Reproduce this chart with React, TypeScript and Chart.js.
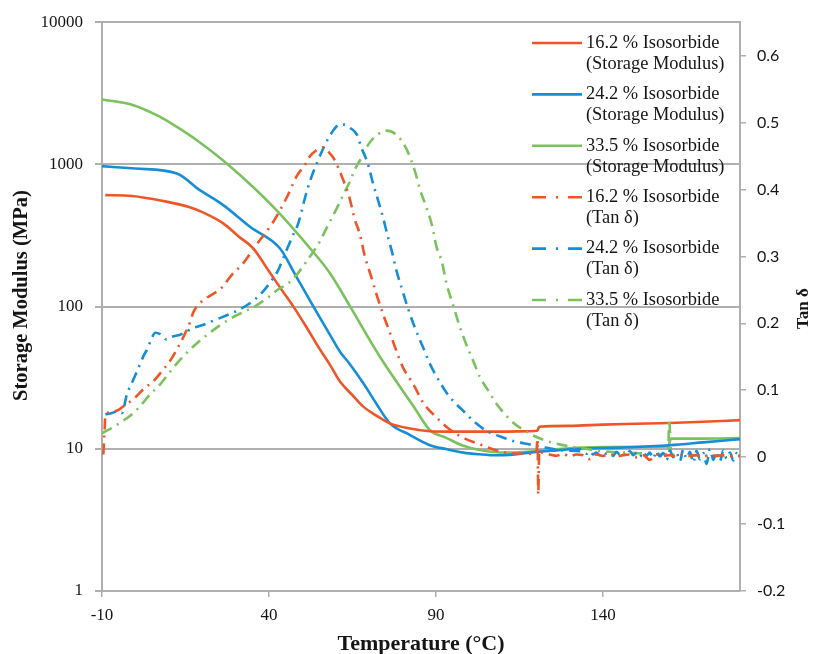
import React, { useEffect, useRef } from 'react';
import { Chart, registerables } from 'chart.js';

Chart.register(...registerables);

// ---------- ticks ----------
const xTickValues = [-10, 40, 90, 140];
const leftTickValues = [1, 10, 100, 1000, 10000];
const rightTickValues = [-0.2, -0.1, 0, 0.1, 0.2, 0.3, 0.4, 0.5, 0.6];

// ---------- legend labels ----------
const seriesNames = ['16.2 % Isosorbide', '24.2 % Isosorbide', '33.5 % Isosorbide'];
const storageSuffix = '(Storage Modulus)';
const tanSuffix = '(Tan δ)';

// ---------- Storage modulus (MPa) ----------
const sm162T = [-9, -1, 8, 16.3, 20.2, 26.2, 31, 35.2, 40, 44, 47.3, 51, 55, 58.3, 61.3, 65, 68.2, 72, 76.2, 82.2, 88.2, 95, 103, 110, 118, 120.3, 120.9, 130, 140, 150, 160, 170, 181];
const sm162V = [608, 600, 555, 500, 460, 386, 310, 258, 177, 129, 100, 73, 51, 38.8, 29.6, 23.8, 19.8, 17.2, 15.1, 13.9, 13.3, 13.2, 13.2, 13.2, 13.3, 13.4, 14.3, 14.5, 14.8, 15.0, 15.2, 15.5, 15.9];

const sm242T = [-10, 0, 12.4, 19.3, 26.3, 34.3, 43.3, 48, 53.3, 58.3, 61.3, 64, 68.2, 72, 76.2, 82, 88.2, 93, 98.2, 103, 108.2, 113, 118.1, 125, 133.1, 145, 160, 170, 181];
const sm242V = [972, 935, 864, 659, 517, 364, 256, 165, 100, 63, 48, 40, 29, 21, 15.1, 12.6, 10.6, 9.96, 9.4, 9.15, 9.0, 9.1, 9.4, 9.7, 10.0, 10.2, 10.6, 11.1, 11.7];

const sm335T = [-10, -0.6, 6.4, 12.4, 18.4, 28.3, 41.3, 52.3, 58.3, 64.3, 73.2, 83.2, 88.2, 93.2, 98.2, 103.2, 108.2, 113.1, 118.1, 123.1, 130, 140, 150, 159.6, 160.2, 170, 181];
const sm335V = [2862, 2610, 2218, 1837, 1480, 972, 503, 257, 171, 100, 44.4, 20, 13.5, 11.9, 10.5, 9.8, 9.45, 9.4, 9.55, 9.8, 10.1, 10.3, 10.35, 10.4, 11.8, 11.8, 11.9];

// ---------- Tan delta ----------
const tan162T = [-9.6, -9.4, -9.2, -9, -6, -3.6, -0.1, 2.9, 4.9, 8.2, 10.9, 12.4, 14.4, 16.3, 17.3, 19.9, 23.3, 25.8, 28.8, 32.3, 36.3, 40.8, 45.3, 48.3, 50.8, 52.3, 54, 56, 58, 59.3, 60.8, 62.3, 63.8, 65.7, 67.2, 68.7, 70.7, 72.2, 74.2, 76.2, 78.2, 80.2, 83.2, 86.2, 90.2, 94.2, 98.2, 103.2, 108.2, 112.2, 118.1, 120, 120.4, 120.6, 120.9, 122,
  124, 126, 128, 130, 132, 134, 136, 138, 140, 142, 144, 146, 148, 150, 152, 154, 156, 158, 160, 162, 164, 166, 168, 170, 172, 174, 176, 178, 180, 181];
const tan162V = [0.004, 0.024, 0.042, 0.063, 0.069, 0.076, 0.089, 0.104, 0.111, 0.130, 0.148, 0.161, 0.180, 0.201, 0.216, 0.233, 0.244, 0.253, 0.272, 0.290, 0.318, 0.348, 0.388, 0.420, 0.437, 0.450, 0.458, 0.463, 0.455, 0.447, 0.432, 0.413, 0.393, 0.355, 0.333, 0.300, 0.268, 0.243, 0.213, 0.186, 0.158, 0.133, 0.109, 0.081, 0.059, 0.041, 0.029, 0.019, 0.010, 0.006, 0.005, 0.006, 0.028, -0.056, 0.010, 0.006,
  0.004, 0.002, 0.005, 0.001, 0.004, 0.003, -0.003, 0.004, 0.002, 0.005, 0.001, 0.003, 0.004, 0.000, 0.003, -0.004, 0.004, 0.002, 0.003, 0.001, 0.004, 0.002, 0.003, 0.001, 0.003, 0.002, 0.003, 0.002, 0.002, 0.002];

const tan242T = [-9, -7, -5.1, -4, -2.6, -0.6, 1.4, 2.4, 3.6, 4.9, 5.9, 7.4, 9.2, 11, 13.4, 17.3, 19.9, 24.3, 28.3, 31.3, 34.8, 38.3, 40.3, 42.6, 44.3, 45.3, 47.3, 48.8, 50.8, 52.3, 54.8, 56.3, 57.8, 59.5, 61, 62.5, 64.3, 66.3, 67.7, 69.5, 71.2, 72.7, 74.2, 75.4, 76.7, 78.2, 79.7, 81.7, 83.7, 86.2, 88.2, 90.7, 93.2, 95.7, 98.2, 101.2, 105.2, 109.2, 113.2, 118.1, 123.1, 128.1, 133.1,
  134, 135, 136, 137, 138, 139, 140, 141, 142, 143, 144, 145, 146, 147, 148, 149, 150, 151, 152, 153, 154, 155, 156, 157, 158, 159, 160, 161, 162, 163, 164, 165, 166, 167, 168, 169, 170, 171, 172, 173, 174, 175, 176, 177, 178, 179, 180, 181];
const tan242V = [0.064, 0.066, 0.069, 0.066, 0.093, 0.116, 0.139, 0.151, 0.162, 0.178, 0.186, 0.184, 0.176, 0.180, 0.183, 0.193, 0.197, 0.206, 0.214, 0.221, 0.232, 0.248, 0.261, 0.278, 0.298, 0.310, 0.333, 0.350, 0.388, 0.413, 0.445, 0.462, 0.477, 0.490, 0.497, 0.497, 0.492, 0.482, 0.462, 0.440, 0.408, 0.383, 0.357, 0.333, 0.309, 0.278, 0.253, 0.221, 0.193, 0.163, 0.139, 0.116, 0.096, 0.081, 0.069, 0.054, 0.039, 0.031, 0.024, 0.019, 0.014, 0.010, 0.009,
  0.008, 0.005, 0.009, 0.004, 0.007, 0.003, 0.008, 0.005, 0.006, 0.002, 0.008, 0.004, 0.007, 0.001, 0.009, 0.003, 0.006, 0.000, 0.008, 0.002, 0.007, -0.002, 0.009, 0.001, 0.006, -0.004, 0.010, 0.000, 0.007, -0.006, 0.011, -0.002, 0.008, -0.008, 0.009, -0.003, 0.006, -0.010, 0.012, -0.004, 0.008, -0.006, 0.010, -0.002, 0.007, -0.005, 0.006, 0.001];

const tan335T = [-10, -8, -4.1, -0.6, 1.4, 4.4, 6.9, 10.9, 14.4, 16.4, 19.3, 22.8, 25.3, 28.8, 32.8, 35.3, 39.3, 42.8, 45.3, 48.5, 51.3, 55.3, 57.3, 60.8, 62.3, 64.3, 65.7, 68.2, 69.7, 72.2, 75.2, 78.5, 81.2, 83.7, 85.2, 87.2, 88.7, 90.2, 91.7, 93.2, 95.2, 96.7, 98.7, 101.2, 103.2, 105.7, 108.2, 111.2, 113.7, 116.2, 118.1, 122.1, 126.1, 130.1, 133.1, 138, 142, 146, 150, 154, 157, 159.5, 159.8, 160.1, 160.4, 164, 168, 172, 176, 181];
const tan335V = [0.036, 0.041, 0.053, 0.066, 0.076, 0.094, 0.106, 0.131, 0.151, 0.161, 0.174, 0.188, 0.197, 0.208, 0.218, 0.224, 0.237, 0.251, 0.258, 0.274, 0.293, 0.323, 0.343, 0.377, 0.393, 0.413, 0.430, 0.452, 0.467, 0.481, 0.488, 0.480, 0.460, 0.427, 0.400, 0.372, 0.348, 0.313, 0.293, 0.258, 0.226, 0.201, 0.173, 0.143, 0.119, 0.099, 0.079, 0.061, 0.049, 0.041, 0.035, 0.026, 0.020, 0.016, 0.014, 0.010, 0.008, 0.007, 0.006, 0.005, 0.004, 0.005, 0.057, 0.030, 0.004, 0.003, 0.003, 0.002, 0.002, 0.002];

// ---------- styles ----------
const RED = '#EE5627';
const BLUE = '#168ED5';
const GREEN = '#7BC25E';
const GRID = '#AFAFAF';
const TEXT = '#151515';
const DASH_DOT = [11, 6, 2, 6];

const pts = (xs: number[], ys: number[]) => xs.map((x, i) => ({ x, y: ys[i] }));

const overlayPlugin = {
  id: 'overlay',
  afterDraw(chart: any) {
    const ctx = chart.ctx as CanvasRenderingContext2D;
    const area = chart.chartArea;
    ctx.save();
    ctx.fillStyle = TEXT;
    ctx.textAlign = 'center';
    ctx.textBaseline = 'middle';

    // left axis title
    ctx.save();
    ctx.font = 'bold 20.5px "Liberation Serif"';
    ctx.translate(22, (area.top + area.bottom) / 2 - 11);
    ctx.rotate(-Math.PI / 2);
    ctx.fillText('Storage Modulus (MPa)', 0, 0);
    ctx.restore();

    // right axis title
    ctx.save();
    ctx.font = 'bold 17px "Liberation Serif"';
    ctx.translate(804, (area.top + area.bottom) / 2 + 2);
    ctx.rotate(-Math.PI / 2);
    ctx.fillText('Tan δ', 0, 0);
    ctx.restore();

    // bottom axis title
    ctx.font = 'bold 22px "Liberation Serif"';
    ctx.fillText('Temperature (°C)', (area.left + area.right) / 2, 644);

    // legend
    const colors = [RED, BLUE, GREEN, RED, BLUE, GREEN];
    const x0 = 532, x1 = 582, tx = 586;
    ctx.textAlign = 'left';
    ctx.font = '18.4px "Liberation Serif"';
    for (let i = 0; i < 6; i++) {
      const y = 43 + i * 51.4;
      ctx.strokeStyle = colors[i];
      ctx.lineWidth = 2.6;
      ctx.lineCap = 'butt';
      ctx.setLineDash([]);
      ctx.beginPath();
      if (i < 3) {
        ctx.moveTo(x0, y);
        ctx.lineTo(x1, y);
      } else {
        ctx.moveTo(x0, y); ctx.lineTo(x0 + 14, y);
        ctx.moveTo(x0 + 24, y); ctx.lineTo(x0 + 26, y);
        ctx.moveTo(x0 + 36, y); ctx.lineTo(x1, y);
      }
      ctx.stroke();
      ctx.fillStyle = TEXT;
      ctx.fillText(seriesNames[i % 3], tx, y);
      ctx.fillText(i < 3 ? storageSuffix : tanSuffix, tx, y + 21);
    }
    ctx.restore();
  },
};

export default function App() {
  const canvasRef = useRef<HTMLCanvasElement | null>(null);

  useEffect(() => {
    const canvas = canvasRef.current;
    if (!canvas) return;

    const solid = (label: string, xs: number[], ys: number[], color: string) => ({
      label,
      data: pts(xs, ys),
      borderColor: color,
      backgroundColor: color,
      borderWidth: 2.6,
      pointRadius: 0,
      showLine: true,
      cubicInterpolationMode: 'monotone',
      yAxisID: 'y',
      order: 2,
    });
    const dashed = (label: string, xs: number[], ys: number[], color: string) => ({
      label,
      data: pts(xs, ys),
      borderColor: color,
      backgroundColor: color,
      borderWidth: 2.6,
      borderDash: DASH_DOT,
      pointRadius: 0,
      showLine: true,
      cubicInterpolationMode: 'monotone',
      yAxisID: 'y2',
      order: 1,
    });

    const chart = new Chart(canvas, {
      type: 'scatter',
      data: {
        datasets: [
          solid(seriesNames[0] + ' ' + storageSuffix, sm162T, sm162V, RED),
          solid(seriesNames[1] + ' ' + storageSuffix, sm242T, sm242V, BLUE),
          solid(seriesNames[2] + ' ' + storageSuffix, sm335T, sm335V, GREEN),
          dashed(seriesNames[0] + ' ' + tanSuffix, tan162T, tan162V, RED),
          dashed(seriesNames[1] + ' ' + tanSuffix, tan242T, tan242V, BLUE),
          dashed(seriesNames[2] + ' ' + tanSuffix, tan335T, tan335V, GREEN),
        ] as any,
      },
      options: {
        responsive: false,
        maintainAspectRatio: false,
        animation: false,
        devicePixelRatio: 1,
        layout: { padding: { top: 22, left: 0, right: 0, bottom: 0 } },
        plugins: { legend: { display: false }, tooltip: { enabled: false } },
        scales: {
          x: {
            type: 'linear',
            position: 'bottom',
            min: -10,
            max: 181,
            afterBuildTicks: (s: any) => { s.ticks = xTickValues.map((v) => ({ value: v })); },
            afterFit: (s: any) => { s.height = 63; },
            grid: { drawOnChartArea: false, drawTicks: true, tickLength: 6, color: GRID, lineWidth: 1.5 },
            border: { display: true, color: GRID, width: 2 },
            ticks: {
              autoSkip: false,
              maxRotation: 0,
              padding: 8,
              color: TEXT,
              font: { family: 'Liberation Serif', size: 17 },
              callback: (v: any) => String(v),
            },
          },
          y: {
            type: 'logarithmic',
            position: 'left',
            min: 1,
            max: 10000,
            afterBuildTicks: (s: any) => { s.ticks = leftTickValues.map((v) => ({ value: v, major: true })); },
            afterFit: (s: any) => { s.width = 102; },
            grid: { drawOnChartArea: true, drawTicks: true, tickLength: 7, color: GRID, lineWidth: 2 },
            border: { display: true, color: GRID, width: 2 },
            ticks: {
              autoSkip: false,
              padding: 12,
              color: TEXT,
              font: { family: 'Liberation Serif', size: 17 },
              callback: (v: any) => String(Math.round(Number(v))),
            },
          },
          y2: {
            type: 'linear',
            position: 'right',
            min: -0.2,
            max: 0.65,
            afterBuildTicks: (s: any) => { s.ticks = rightTickValues.map((v) => ({ value: v })); },
            afterFit: (s: any) => { s.width = 75; },
            grid: { drawOnChartArea: false, drawTicks: true, tickLength: 6, color: GRID, lineWidth: 1.5 },
            border: { display: true, color: GRID, width: 2 },
            ticks: {
              autoSkip: false,
              padding: 11,
              color: TEXT,
              font: { family: 'Lato', size: 16 },
              callback: (v: any) => String(Math.round(Number(v) * 10) / 10),
            },
          },
        },
      } as any,
      plugins: [overlayPlugin],
    });

    return () => chart.destroy();
  }, []);

  return (
    <div style={{ position: 'absolute', left: 0, top: 0, width: 815, height: 654, background: '#fff' }}>
      <canvas ref={canvasRef} width={815} height={654} style={{ display: 'block' }} />
    </div>
  );
}
